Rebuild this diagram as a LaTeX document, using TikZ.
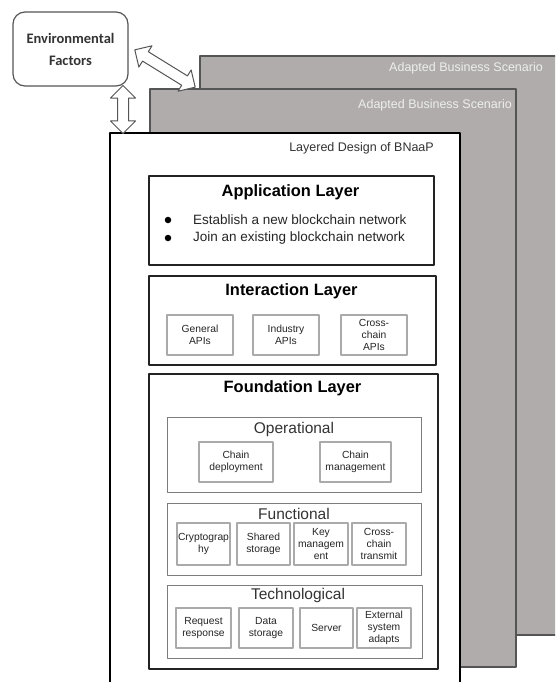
\documentclass[tikz,border=0pt]{standalone}
\usepackage{fontspec}
\setmainfont{Liberation Sans}
\newfontfamily\calibri{Carlito}
\usetikzlibrary{shapes.arrows}
\definecolor{scengray}{RGB}{176,172,171}
\definecolor{scenline}{RGB}{85,85,85}
\definecolor{scentext}{RGB}{238,238,238}
\definecolor{itemline}{RGB}{170,170,170}
\definecolor{groupline}{RGB}{125,125,125}
\definecolor{layerline}{RGB}{35,35,35}
\begin{document}
\begin{tikzpicture}[x=1pt, y=-1pt, line join=round,
    scen/.style={draw=scenline, fill=scengray, line width=1.2pt},
    scenlabel/.style={text=scentext, anchor=east, inner sep=0pt, font=\fontsize{12.5}{14}\selectfont},
    envbox/.style={draw=scenline, rounded corners=12pt, line width=1.2pt, minimum width=115pt, minimum height=74pt, align=center, text=black!80, font=\calibri\bfseries\fontsize{14.5}{22}\selectfont},
    twoway/.style={double arrow, draw=scenline, fill=white, line width=1pt, inner sep=5pt, double arrow head extend=7pt},
    layerbox/.style={draw=layerline, line width=1.8pt, anchor=north west},
    groupbox/.style={draw=groupline, line width=1.4pt, anchor=north west},
    itembox/.style={draw=itemline, line width=1.2pt, minimum height=40pt, align=center, inner sep=1pt, text=black!85, font=\fontsize{10.3}{12}\selectfont},
    layertitle/.style={inner sep=0pt, font=\bfseries\fontsize{16.4}{18}\selectfont},
    grouptitle/.style={inner sep=0pt, text=black!80, font=\fontsize{15.5}{17}\selectfont},
    bulletitem/.style={anchor=west, inner sep=0pt, text=black!85, font=\fontsize{13.5}{15}\selectfont},
    dot/.style={circle, fill=black, inner sep=0pt, minimum size=6.5pt}]
  \useasboundingbox (0,0) rectangle (555,682);
  \clip (0,0) rectangle (555,682);

  \draw[scen] (200,56) rectangle (570,635);
  \node[scenlabel] (scenback) at (543,68) {Adapted Business Scenario};
  \draw[scen] (150,89) rectangle (516,667);
  \node[scenlabel] (scenmid) at (512,105) {Adapted Business Scenario};
  \draw[fill=white, line width=1.3pt] (110,133) rectangle (460,700);
  \node[anchor=east, inner sep=0pt, text=black!80, font=\fontsize{12.5}{14}\selectfont] (design) at (434,148) {Layered Design of BNaaP};

  \node[envbox] (env) at (70.5,49) {Environmental\\Factors};
  \node[twoway, minimum height=48pt, rotate=90] (envdown) at (123,109.5) {};
  \node[twoway, minimum height=71pt, rotate=-31.7] (envright) at (165,68.5) {};

  \node[layerbox, minimum width=285pt, minimum height=89pt] (app) at (148,175) {};
  \node[layertitle] (apptitle) at (290.5,192) {Application Layer};
  \node[dot] (dota) at (168,220) {};
  \node[bulletitem] (appa) at (193,220) {Establish a new blockchain network};
  \node[dot] (dotb) at (168,238) {};
  \node[bulletitem] (appb) at (193,238) {Join an existing blockchain network};

  \node[layerbox, minimum width=287pt, minimum height=89pt] (inter) at (148,275) {};
  \node[layertitle] (intertitle) at (291.5,291) {Interaction Layer};
  \node[itembox, minimum width=66pt] (general) at (200,335) {General\\APIs};
  \node[itembox, minimum width=66pt] (industry) at (286,335) {Industry\\APIs};
  \node[itembox, minimum width=66pt] (crossapi) at (374,335) {Cross-\\chain\\APIs};

  \node[layerbox, minimum width=289pt, minimum height=295pt] (found) at (148,373) {};
  \node[layertitle] (foundtitle) at (292.5,388) {Foundation Layer};

  \node[groupbox, minimum width=254pt, minimum height=75pt] (oper) at (167,417) {};
  \node[grouptitle] (opertitle) at (294,429) {Operational};
  \node[itembox, minimum width=74pt] (deploy) at (236,462) {Chain\\deployment};
  \node[itembox, minimum width=71pt] (manage) at (355.5,462) {Chain\\management};

  \node[groupbox, minimum width=254pt, minimum height=72pt] (func) at (167,503) {};
  \node[grouptitle] (functitle) at (294,514) {Functional};
  \node[itembox, minimum width=53pt, minimum height=42pt] (crypto) at (203.5,544) {Cryptograp\\hy};
  \node[itembox, minimum width=53pt, minimum height=42pt] (shared) at (263.5,544) {Shared\\storage};
  \node[itembox, minimum width=54pt, minimum height=42pt] (keymgmt) at (321,544) {Key\\managem\\ent};
  \node[itembox, minimum width=54pt, minimum height=42pt] (transmit) at (379,544) {Cross-\\chain\\transmit};

  \node[groupbox, minimum width=255pt, minimum height=73pt] (tech) at (167,585) {};
  \node[grouptitle] (techtitle) at (298,595) {Technological};
  \node[itembox, minimum width=55pt] (request) at (203.5,628) {Request\\response};
  \node[itembox, minimum width=54pt] (datastore) at (266,628) {Data\\storage};
  \node[itembox, minimum width=53pt] (server) at (326.5,628) {Server};
  \node[itembox, minimum width=54pt] (external) at (384,628) {External\\system\\adapts};
\end{tikzpicture}
\end{document}
